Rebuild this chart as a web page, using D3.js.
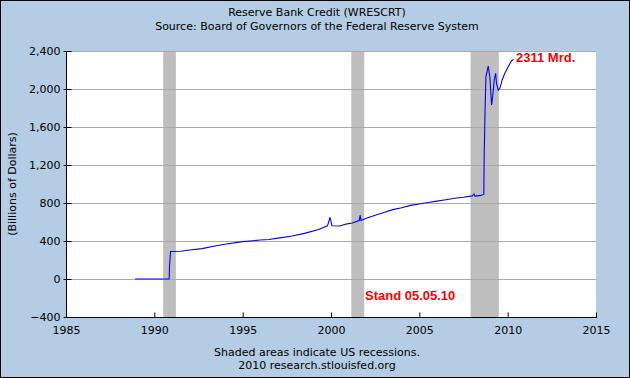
<!DOCTYPE html>
<html>
<head>
<meta charset="utf-8">
<script src="https://cdn.jsdelivr.net/npm/d3@7"></script>
<style>
  body { margin: 0; }
  svg { display: block; }
</style>
</head>
<body>
<svg width="630" height="378"></svg>
<script>
// Reserve Bank Credit, billions of dollars
var years = [1988.91, 1990.84, 1990.86, 1990.92, 1991.5, 1992.0, 1992.7, 1993.5, 1994.0, 1995.0,
  1996.0, 1996.5, 1997.0, 1997.8, 1998.5, 1999.3, 1999.8, 1999.95, 2000.05, 2000.5,
  2000.85, 2001.2, 2001.6, 2001.65, 2001.7, 2002.0, 2002.5, 2003.0, 2003.5, 2004.0,
  2004.5, 2005.0, 2005.5, 2006.0, 2006.5, 2007.0, 2007.5, 2008.0, 2008.1, 2008.15,
  2008.5, 2008.65, 2008.67, 2008.72, 2008.77, 2008.9, 2008.99, 2009.03, 2009.09, 2009.15,
  2009.24, 2009.32, 2009.37, 2009.47, 2009.56, 2009.69, 2009.84, 2010.03, 2010.22, 2010.34];
var values = [0, 0, 140, 290, 292, 305, 320, 350, 365, 393,
  410, 415, 430, 453, 480, 520, 560, 650, 560, 558,
  578, 590, 615, 673, 615, 640, 670, 700, 730, 750,
  775, 790, 805, 820, 835, 850, 860, 875, 895, 872,
  880, 892, 1290, 1780, 2130, 2242, 2129, 2007, 1832, 1919,
  2095, 2165, 2060, 1989, 2007, 2095, 2165, 2235, 2298, 2311];

var recessions = [[1990.5, 1991.22], [2001.15, 2001.88], [2007.9, 2009.5]];
var yTicks = [-400, 0, 400, 800, 1200, 1600, 2000, 2400];
var xTicks = [1985, 1990, 1995, 2000, 2005, 2010, 2015];

var svg = d3.select("svg");
var pL = 66, pR = 596, pT = 51, pB = 317;

svg.append("rect")
    .attr("x", 0.5).attr("y", 0.5)
    .attr("width", 629).attr("height", 377)
    .attr("fill", "#b4cde4")
    .attr("stroke", "#000");

var x = d3.scaleLinear().domain([1985, 2015]).range([pL, pR]);
var y = d3.scaleLinear().domain([-400, 2400]).range([pB, pT]);

svg.append("rect")
    .attr("x", pL).attr("y", pT)
    .attr("width", pR - pL).attr("height", pB - pT)
    .attr("fill", "#fff");

// recession bars
svg.selectAll(".rec")
    .data(recessions)
    .enter().append("rect")
    .attr("class", "rec")
    .attr("x", d => x(d[0]))
    .attr("y", pT)
    .attr("width", d => x(d[1]) - x(d[0]))
    .attr("height", pB - pT)
    .attr("fill", "#bebebe");

// grid
svg.selectAll(".grid")
    .data(yTicks.slice(1))
    .enter().append("line")
    .attr("class", "grid")
    .attr("x1", pL).attr("x2", pR)
    .attr("y1", d => Math.round(y(d)) + 0.5)
    .attr("y2", d => Math.round(y(d)) + 0.5)
    .attr("stroke", "#aaa");

var font = "DejaVu Sans, Verdana, sans-serif";

var yAxis = svg.append("g")
    .attr("transform", "translate(" + (pL + 0.5) + ",0)")
    .call(d3.axisLeft(y).tickValues(yTicks).tickSize(4).tickPadding(2)
        .tickFormat(d3.format(",")));
yAxis.selectAll(".tick line").attr("x2", -3).attr("x1", 5);
var xAxis = svg.append("g")
    .attr("transform", "translate(0," + (pB + 0.5) + ")")
    .call(d3.axisBottom(x).tickValues(xTicks).tickSize(0).tickPadding(9)
        .tickFormat(d3.format("d")));
xAxis.selectAll(".tick")
    .append("line")
    .attr("y1", 0).attr("y2", -5)
    .attr("stroke", "#000");

[yAxis, xAxis].forEach(function(a) {
    a.select(".domain").remove();
    a.selectAll("text").attr("font-family", font).attr("font-size", 11).attr("fill", "#000");
});

svg.append("line")
    .attr("x1", pL + 0.5).attr("x2", pL + 0.5)
    .attr("y1", pT).attr("y2", pB + 1)
    .attr("stroke", "#000");
svg.append("line")
    .attr("x1", pL).attr("x2", pR + 1)
    .attr("y1", pB + 0.5).attr("y2", pB + 0.5)
    .attr("stroke", "#000");

// series
var pts = years.map((d, i) => [d, values[i]]);
svg.append("path")
    .datum(pts)
    .attr("fill", "none")
    .attr("stroke", "#0000ff")
    .attr("stroke-width", 1.1)
    .attr("d", d3.line().x(d => x(d[0])).y(d => y(d[1])));

// texts
function txt(s, tx, ty, opts) {
    opts = opts || {};
    return svg.append("text")
        .attr("x", tx).attr("y", ty)
        .attr("text-anchor", opts.anchor || "middle")
        .attr("font-family", opts.family || font)
        .attr("font-size", opts.size || 11)
        .attr("font-weight", opts.weight || "normal")
        .attr("fill", opts.fill || "#000")
        .text(s);
}
txt("Reserve Bank Credit (WRESCRT)", 317, 16);
txt("Source: Board of Governors of the Federal Reserve System", 317, 30);
txt("Shaded areas indicate US recessions.", 317, 356);
txt("2010 research.stlouisfed.org", 317, 369);
txt("(Billions of Dollars)", 0, 0).attr("transform", "translate(16,184) rotate(-90)");

txt("2311 Mrd.", 516, 62, {anchor: "start", family: "Liberation Sans, Arial, sans-serif", size: 13, weight: "bold", fill: "#ff0000"});
txt("Stand 05.05.10", 365, 300, {anchor: "start", family: "Liberation Sans, Arial, sans-serif", size: 13, weight: "bold", fill: "#ff0000"});
</script>
</body>
</html>
